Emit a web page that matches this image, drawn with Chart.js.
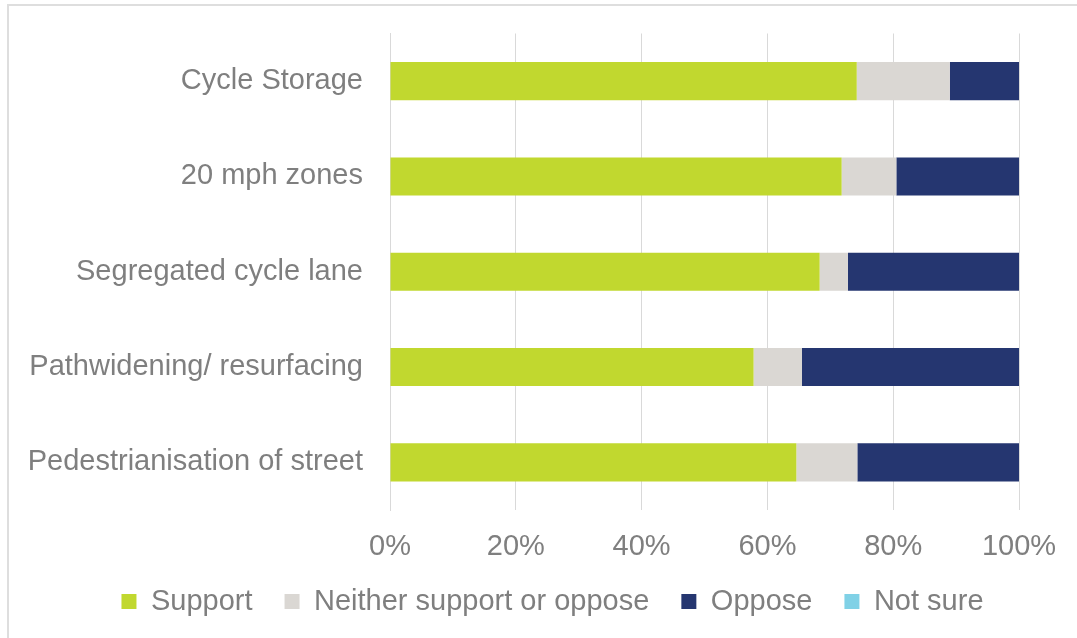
<!DOCTYPE html>
<html lang="en">

<head>
    <meta charset="UTF-8">
    <title>Support for walking and cycling measures</title>
    <script src="https://cdn.jsdelivr.net/npm/chart.js@4.4.1/dist/chart.umd.min.js"></script>
    <style>
        html, body {
            margin: 0;
            padding: 0;
            background: #fff;
            overflow: hidden;
        }
        #myChart {
            position: absolute;
            left: 0;
            top: 0;
        }
        .frame {
            position: absolute;
            left: 7px;
            top: 4px;
            right: 0;
            bottom: 0;
            border-top: 2px solid #dedede;
            border-left: 2px solid #dedede;
            pointer-events: none;
        }
    </style>
</head>

<body>
    <canvas id="myChart" width="1077" height="626"></canvas>
    <div class="frame"></div>
    <script>
    // categories, top to bottom
    var measures = ["Cycle Storage", "20 mph zones", "Segregated cycle lane", "Pathwidening/ resurfacing", "Pedestrianisation of street"];

    // share of responses, in percent
    var support = [74.2, 71.8, 68.3, 57.8, 64.6];
    var neither = [14.8, 8.7, 4.5, 7.7, 9.7];
    var oppose = [11.0, 19.5, 27.2, 34.5, 25.7];
    var notSure = [0, 0, 0, 0, 0];

    var xTicks = [0, 20, 40, 60, 80, 100];

    var grey = '#7f7f7f';
    var font = { family: '"Liberation Sans", Arial, sans-serif', size: 29 };

    // move the legend row right so it sits under the plot rather than the whole canvas
    var legendShift = {
        id: 'legendShift',
        afterLayout: function(chart) {
            chart.legend.left += 86;
        }
    };

    var ctx = document.getElementById('myChart').getContext('2d');
    var chart = new Chart(ctx, {
        type: 'bar',
        data: {
            labels: measures,
            datasets: [{
                    label: "Support",
                    backgroundColor: '#c1d82f',
                    data: support
                },
                {
                    label: "Neither support or oppose",
                    backgroundColor: '#dad7d3',
                    data: neither
                },
                {
                    label: "Oppose",
                    backgroundColor: '#253670',
                    data: oppose
                },
                {
                    label: "Not sure",
                    backgroundColor: '#80d1e6',
                    data: notSure
                }
            ]
        },
        plugins: [legendShift],
        options: {
            indexAxis: 'y',
            responsive: false,
            animation: false,
            barPercentage: 0.5,
            categoryPercentage: 0.8,
            layout: {
                padding: { top: 33.5, right: 58, left: 0, bottom: 0 }
            },
            scales: {
                x: {
                    stacked: true,
                    min: 0,
                    max: 100,
                    afterBuildTicks: function(scale) {
                        scale.ticks = xTicks.map(function(v) { return { value: v }; });
                    },
                    afterFit: function(scale) {
                        scale.height = 45;
                        scale.paddingLeft = 0;
                        scale.paddingRight = 0;
                    },
                    grid: { color: '#d9d9d9', lineWidth: 1, drawTicks: false },
                    border: { display: false },
                    ticks: {
                        color: grey,
                        font: font,
                        padding: 20,
                        maxRotation: 0,
                        callback: function(v) { return v + '%'; }
                    }
                },
                y: {
                    stacked: true,
                    afterFit: function(scale) {
                        scale.width = 390;
                        scale.paddingTop = 0;
                        scale.paddingBottom = 0;
                    },
                    grid: { display: false, drawTicks: false },
                    border: { display: true, color: '#d9d9d9', width: 1 },
                    ticks: { color: grey, font: font, padding: 27 }
                }
            },
            plugins: {
                tooltip: { enabled: false },
                legend: {
                    position: 'bottom',
                    labels: {
                        color: grey,
                        font: font,
                        boxWidth: 15,
                        boxHeight: 15,
                        padding: 32
                    }
                }
            }
        }
    });
    </script>
</body>

</html>
